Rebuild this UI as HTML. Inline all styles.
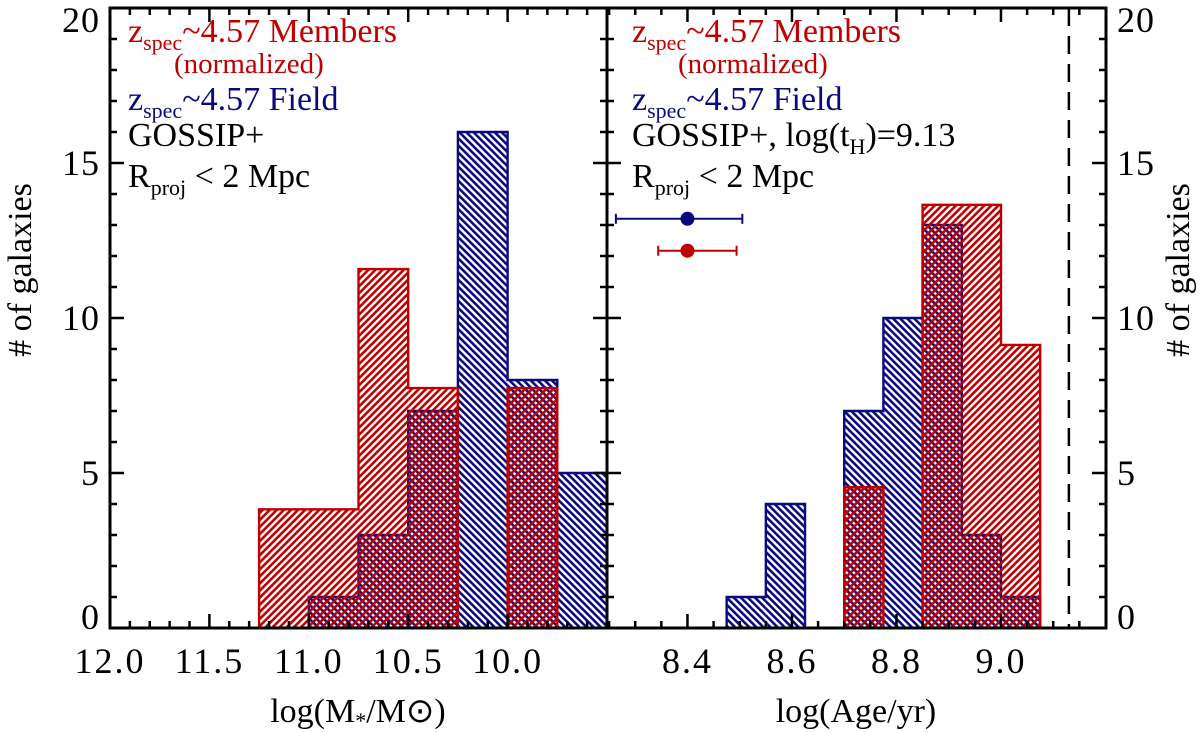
<!DOCTYPE html>
<html><head><meta charset="utf-8"><style>
html,body{margin:0;padding:0;background:#fff}
svg{display:block;font-family:"Liberation Serif",serif}
</style></head><body>
<svg id="chart" width="1200" height="732" viewBox="0 0 1200 732" xmlns="http://www.w3.org/2000/svg">
<defs>
<pattern id="pred" patternUnits="userSpaceOnUse" width="5" height="5" patternTransform="rotate(45)">
<rect x="0" y="0" width="2.6" height="5" fill="#c00000"/></pattern>
<pattern id="pblue" patternUnits="userSpaceOnUse" width="5" height="5" patternTransform="rotate(-45)">
<rect x="0" y="0" width="2.6" height="5" fill="#0a0a80"/></pattern>
</defs>
<g id="marks"></g>
<g id="axes"></g>
<g font-size="34">
<text x="128" y="42" fill="#c00000">z<tspan font-size="22" dy="8">spec</tspan><tspan dy="-8">~4.57 Members</tspan></text>
<text x="174" y="73" fill="#c00000" font-size="29">(normalized)</text>
<text x="128" y="110" fill="#0a0a80">z<tspan font-size="22" dy="8">spec</tspan><tspan dy="-8">~4.57 Field</tspan></text>
<text x="128" y="146" fill="#000">GOSSIP+</text>
<text x="128" y="187" fill="#000">R<tspan font-size="22" dy="8">proj</tspan><tspan dy="-8"> &lt; 2 Mpc</tspan></text>
</g>
<g font-size="34">
<text x="632" y="42" fill="#c00000">z<tspan font-size="22" dy="8">spec</tspan><tspan dy="-8">~4.57 Members</tspan></text>
<text x="678" y="73" fill="#c00000" font-size="29">(normalized)</text>
<text x="632" y="110" fill="#0a0a80">z<tspan font-size="22" dy="8">spec</tspan><tspan dy="-8">~4.57 Field</tspan></text>
<text x="632" y="146" fill="#000">GOSSIP+, log(t<tspan font-size="22" dy="8">H</tspan><tspan dy="-8">)=9.13</tspan></text>
<text x="632" y="187" fill="#000">R<tspan font-size="22" dy="8">proj</tspan><tspan dy="-8"> &lt; 2 Mpc</tspan></text>
</g>
<text x="358" y="722" font-size="34" text-anchor="middle">log(M<tspan font-size="22" dy="6">*</tspan><tspan dy="-6">/M</tspan><tspan>⊙</tspan>)</text>
<text x="856" y="722" font-size="34" text-anchor="middle">log(Age/yr)</text>
<text transform="translate(31,270) rotate(-90)" font-size="34" text-anchor="middle"># of galaxies</text>
<text transform="translate(1189,270) rotate(-90)" font-size="34" text-anchor="middle"># of galaxies</text>
</svg>
<script>
// Left panel: stellar mass (bins run toward lower mass)
const massRedStart = 11.25;
const massRedCounts = [3.83, 3.83, 11.58, 7.74, 0, 7.74];
const massBlueStart = 11.0;
const massBlueCounts = [1, 3, 7, 16, 8, 5];
const massBinWidth = 0.25;
const massTicks = ["12.0","11.5","11.0","10.5","10.0"];
// Right panel: age
const ageRedStart = 8.70;
const ageRedCounts = [4.54, 0, 13.65, 13.65, 9.13];
const ageBlueStart = 8.475;
const ageBlueCounts = [1, 4, 0, 7, 10, 13, 3, 1];
const ageBinWidth = 0.075;
const ageTicks = ["8.4","8.6","8.8","9.0"];
const hubbleAge = 9.13;
const errCenters = [8.40, 8.40];
const errLow = [8.263, 8.344];
const errHigh = [8.505, 8.494];
const errY = [13.2, 12.17];
const yTicks = ["0","5","10","15","20"];

const NS = "http://www.w3.org/2000/svg";
const Y0 = 628, YT = 8;
const yS = v => Y0 - v * (Y0 - YT) / 20;
const LX0 = 110, LX1 = 607, RX0 = 607, RX1 = 1106;
const xL = v => LX0 + (12 - v) * (LX1 - LX0) / 2.5;
const xR = v => RX0 + (v - 8.246) * 522.5;
const marks = document.getElementById('marks');
const axes = document.getElementById('axes');
function mk(tag, attrs, parent) { const e = document.createElementNS(NS, tag); for (const k in attrs) e.setAttribute(k, attrs[k]); parent.appendChild(e); return e; }

function hist(start, counts, w, dir, xf, fill, stroke, name) {
  const g = mk('g', {}, marks);
  
  
  // fills
  counts.forEach((c, i) => {
    if (c <= 0) return;
    const a = xf(start + dir * i * w), b = xf(start + dir * (i + 1) * w);
    const r = mk('rect', { x: Math.min(a, b), y: yS(c), width: Math.abs(b - a), height: Y0 - yS(c), fill: fill }, g);
    
    
  });
  // step outline
  let d = '';
  let prev = 0;
  counts.forEach((c, i) => {
    const a = xf(start + dir * i * w), b = xf(start + dir * (i + 1) * w);
    if (i === 0) d += 'M' + a + ' ' + Y0;
    d += ' L' + a + ' ' + yS(c) + ' L' + b + ' ' + yS(c);
    if (c <= 0 && prev > 0) d += '';
    prev = c;
  });
  d += ' L' + xf(start + dir * counts.length * w) + ' ' + Y0;
  const p = mk('path', { d: d, fill: 'none', stroke: stroke, 'stroke-width': 2.4, 'stroke-linejoin': 'miter' }, g);
  
  
}
hist(massBlueStart, massBlueCounts, massBinWidth, -1, xL, 'url(#pblue)', '#0a0a80', 'mass-field');
hist(massRedStart, massRedCounts, massBinWidth, -1, xL, 'url(#pred)', '#c00000', 'mass-members');
hist(ageBlueStart, ageBlueCounts, ageBinWidth, 1, xR, 'url(#pblue)', '#0a0a80', 'age-field');
hist(ageRedStart, ageRedCounts, ageBinWidth, 1, xR, 'url(#pred)', '#c00000', 'age-members');

const hl = mk('line', { x1: xR(hubbleAge), x2: xR(hubbleAge), y1: YT, y2: Y0, stroke: '#000', 'stroke-width': 2.5, 'stroke-dasharray': '18,10' }, marks);



const ecol = ['#0a0a80', '#c00000'];
errCenters.forEach((c, i) => {
  const g = mk('g', {}, marks);
  
  
  const y = yS(errY[i]);
  mk('line', { x1: xR(errLow[i]), x2: xR(errHigh[i]), y1: y, y2: y, stroke: ecol[i], 'stroke-width': 2 }, g);
  mk('line', { x1: xR(errLow[i]), x2: xR(errLow[i]), y1: y - 5, y2: y + 5, stroke: ecol[i], 'stroke-width': 2 }, g);
  mk('line', { x1: xR(errHigh[i]), x2: xR(errHigh[i]), y1: y - 5, y2: y + 5, stroke: ecol[i], 'stroke-width': 2 }, g);
  mk('circle', { cx: xR(c), cy: y, r: 7, fill: ecol[i] }, g);
});

const f1 = mk('rect', { x: LX0, y: YT, width: LX1 - LX0, height: Y0 - YT, fill: 'none', stroke: '#000', 'stroke-width': 3 }, axes);


const f2 = mk('rect', { x: RX0, y: YT, width: RX1 - RX0, height: Y0 - YT, fill: 'none', stroke: '#000', 'stroke-width': 3 }, axes);



for (let v = 0; v <= 20; v++) {
  const y = yS(v), len = v % 5 === 0 ? 14 : 7;
  [[LX0, 1], [LX1, -1], [RX0, 1], [RX1, -1]].forEach(([x, d]) => mk('line', { x1: x, x2: x + d * len, y1: y, y2: y, stroke: '#000', 'stroke-width': 2.5 }, axes));
}
yTicks.forEach(t => {
  const v = +t; let y = yS(v) + 12;
  if (v === 0) y = yS(v) + 1;
  if (v === 20) y = yS(v) + 24;
  const a = mk('text', { x: 100, y: y, 'font-size': 36, 'text-anchor': 'end', 'letter-spacing': 1 }, axes);
  a.textContent = t;
  
  
  const b = mk('text', { x: 1117, y: y, 'font-size': 36, 'letter-spacing': 1 }, axes);
  b.textContent = t;
  
  
});
for (let k = 0; k <= 25; k++) {
  const v = 12 - k * 0.1, x = xL(v), len = k % 5 === 0 ? 14 : 7;
  mk('line', { x1: x, x2: x, y1: Y0, y2: Y0 - len, stroke: '#000', 'stroke-width': 2.5 }, axes);
  mk('line', { x1: x, x2: x, y1: YT, y2: YT + len, stroke: '#000', 'stroke-width': 2.5 }, axes);
}
massTicks.forEach(t => {
  const a = mk('text', { x: xL(+t), y: 673, 'font-size': 36, 'text-anchor': 'middle', 'letter-spacing': 2 }, axes);
  a.textContent = t;
  
  
});
for (let k = 0; k <= 19; k++) {
  const v = 8.25 + k * 0.05, x = xR(v);
  if (x > RX1 - 2) break;
  const len = Math.abs(Math.round(v * 100) % 20) === 0 ? 14 : 7;
  mk('line', { x1: x, x2: x, y1: Y0, y2: Y0 - len, stroke: '#000', 'stroke-width': 2.5 }, axes);
  mk('line', { x1: x, x2: x, y1: YT, y2: YT + len, stroke: '#000', 'stroke-width': 2.5 }, axes);
}
ageTicks.forEach(t => {
  const a = mk('text', { x: xR(+t), y: 673, 'font-size': 36, 'text-anchor': 'middle', 'letter-spacing': 2 }, axes);
  a.textContent = t;
  
  
});
</script>
</body></html>
